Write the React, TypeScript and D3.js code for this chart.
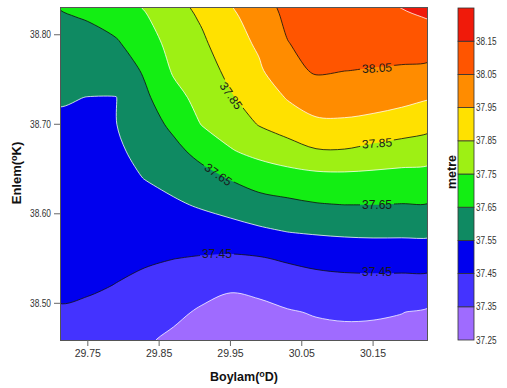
import React from "react";
import * as d3 from "d3";

// grid of the surface (lon = columns, lat = rows from south to north)
const lons = [29.71, 29.75, 29.79, 29.83, 29.87, 29.91, 29.95, 29.99, 30.03, 30.07, 30.11, 30.15, 30.19, 30.23];
const lats = [38.46, 38.49, 38.52, 38.55, 38.58, 38.61, 38.64, 38.67, 38.7, 38.73, 38.76, 38.79, 38.82, 38.85];
const depth = [
  [37.41, 37.407, 37.394, 37.363, 37.332, 37.29, 37.295, 37.3, 37.313, 37.323, 37.327, 37.326, 37.321, 37.314],
  [37.44, 37.434, 37.421, 37.396, 37.372, 37.336, 37.324, 37.329, 37.343, 37.356, 37.362, 37.36, 37.352, 37.335],
  [37.47, 37.461, 37.448, 37.429, 37.411, 37.389, 37.36, 37.371, 37.397, 37.412, 37.418, 37.419, 37.417, 37.412],
  [37.48, 37.474, 37.468, 37.461, 37.451, 37.443, 37.437, 37.443, 37.461, 37.476, 37.485, 37.488, 37.489, 37.489],
  [37.489, 37.485, 37.487, 37.491, 37.494, 37.502, 37.513, 37.533, 37.551, 37.56, 37.566, 37.569, 37.568, 37.568],
  [37.5, 37.497, 37.507, 37.522, 37.537, 37.56, 37.586, 37.613, 37.629, 37.644, 37.65, 37.65, 37.647, 37.644],
  [37.512, 37.509, 37.526, 37.552, 37.58, 37.616, 37.656, 37.693, 37.709, 37.719, 37.723, 37.721, 37.716, 37.712],
  [37.526, 37.523, 37.535, 37.579, 37.624, 37.682, 37.743, 37.777, 37.808, 37.842, 37.843, 37.821, 37.805, 37.79],
  [37.539, 37.536, 37.549, 37.606, 37.67, 37.754, 37.794, 37.855, 37.894, 37.93, 37.935, 37.923, 37.902, 37.878],
  [37.556, 37.549, 37.549, 37.632, 37.72, 37.781, 37.842, 37.892, 37.957, 38.002, 37.996, 37.99, 37.978, 37.956],
  [37.585, 37.585, 37.589, 37.663, 37.76, 37.808, 37.873, 37.935, 38.025, 38.059, 38.051, 38.046, 38.039, 38.027],
  [37.613, 37.621, 37.639, 37.703, 37.783, 37.834, 37.905, 37.965, 38.046, 38.089, 38.085, 38.08, 38.089, 38.094],
  [37.642, 37.656, 37.69, 37.742, 37.806, 37.862, 37.935, 37.985, 38.072, 38.119, 38.118, 38.112, 38.136, 38.156],
  [37.671, 37.692, 37.73, 37.781, 37.83, 37.891, 37.965, 38.005, 38.097, 38.142, 38.145, 38.144, 38.181, 38.201],
];

const levels = [37.25, 37.35, 37.45, 37.55, 37.65, 37.75, 37.85, 37.95, 38.05, 38.15];
const barEdges = [37.25, 37.35, 37.45, 37.55, 37.65, 37.75, 37.85, 37.95, 38.05, 38.15, 38.25];
const bandColors = [
  "#9f6bff", "#4433ff", "#0000ee", "#0f8a62", "#13ee13",
  "#9ef014", "#ffe100", "#ff8c00", "#ff5500", "#f01a0a",
];
const labeledLevels = [37.45, 37.65, 37.85, 38.05];

const lonTicks = [29.75, 29.85, 29.95, 30.05, 30.15];
const latTicks = [38.5, 38.6, 38.7, 38.8];

const contourLabels = [
  { text: "37.85", lon: 29.951, lat: 38.732, angle: 55 },
  { text: "37.65", lon: 29.933, lat: 38.644, angle: 35 },
  { text: "37.45", lon: 29.931, lat: 38.555, angle: 0 },
  { text: "38.05", lon: 30.1555, lat: 38.763, angle: -3 },
  { text: "37.85", lon: 30.1555, lat: 38.679, angle: -4 },
  { text: "37.65", lon: 30.1555, lat: 38.61, angle: 0 },
  { text: "37.45", lon: 30.1555, lat: 38.535, angle: 0 },
];

const font = "'Liberation Sans', Arial, sans-serif";

export default function App() {
  const W = 507, H = 388;
  const left = 60, right = 428, top = 7, bottom = 340;

  const x = d3.scaleLinear().domain([29.711, 30.227]).range([left, right]);
  const y = d3.scaleLinear().domain([38.459, 38.831]).range([bottom, top]);
  const cb = d3.scaleLinear().domain([37.25, 38.25]).range([bottom, 8]);

  const nx = lons.length, ny = lats.length;
  const dLon = lons[1] - lons[0], dLat = lats[1] - lats[0];
  const bands = d3.contours().size([nx, ny]).thresholds(levels)(depth.flat());

  // grid cell i sits at coordinate i + 0.5 in d3.contours space
  const toPx = (p: number[]) => [x(lons[0] + (p[0] - 0.5) * dLon), y(lats[0] + (p[1] - 0.5) * dLat)] as [number, number];
  const ring = d3.line().curve(d3.curveCatmullRomClosed.alpha(0.5));
  const smoothPath = (b: any) =>
    b.coordinates
      .map((poly: number[][][]) => poly.map((r) => ring(r.slice(0, -1).map(toPx)) || "").join(""))
      .join("");
  const fmt = d3.format(".2f");

  return (
    <svg width={W} height={H} style={{ display: "block", position: "absolute", left: 0, top: 0, background: "#fff" }}>
      <defs>
        <clipPath id="plotclip">
          <rect x={left} y={top} width={right - left} height={bottom - top} />
        </clipPath>
        <mask id="lblmask" maskUnits="userSpaceOnUse" x={0} y={0} width={W} height={H}>
          <rect x={0} y={0} width={W} height={H} fill="white" />
          {contourLabels.map((l, i) => (
            <rect key={i} x={-17} y={-6.5} width={34} height={13} fill="black"
              transform={`translate(${x(l.lon)},${y(l.lat)}) rotate(${l.angle})`} />
          ))}
        </mask>
      </defs>

      <g clipPath="url(#plotclip)">
        <rect x={left} y={top} width={right - left} height={bottom - top} fill={bandColors[0]} />
        {bands.map((b, i) => (
          <path key={i} d={smoothPath(b)} fill={bandColors[i]} fillRule="evenodd" />
        ))}
        <g mask="url(#lblmask)">
          {bands.slice(1).map((b, i) => {
            const dark = labeledLevels.includes(b.value);
            return (
              <path key={i} d={smoothPath(b)} fill="none"
                stroke={dark ? "#111" : "#fff"} strokeWidth={0.9} strokeOpacity={dark ? 0.9 : 0.85} />
            );
          })}
        </g>
        {contourLabels.map((l, i) => (
          <text key={i} transform={`translate(${x(l.lon)},${y(l.lat)}) rotate(${l.angle})`}
            textAnchor="middle" dy="0.36em" fontFamily={font} fontSize={12} fill="#1a1a1a">
            {l.text}
          </text>
        ))}
      </g>

      <rect x={left + 0.5} y={top + 0.5} width={right - left - 1} height={bottom - top} fill="none" stroke="#555" strokeWidth={1} />

      {latTicks.map((t) => (
        <g key={t}>
          <line x1={left - 6} x2={left} y1={y(t)} y2={y(t)} stroke="#666" />
          <text x={left - 9} y={y(t)} dy="0.36em" textAnchor="end" fontFamily={font} fontSize={10}
            textLength={21} lengthAdjust="spacingAndGlyphs" fill="#333">{fmt(t)}</text>
        </g>
      ))}
      {lonTicks.map((t) => (
        <g key={t}>
          <line x1={x(t)} x2={x(t)} y1={bottom} y2={bottom + 6} stroke="#666" />
          <text x={x(t)} y={357} textAnchor="middle" fontFamily={font} fontSize={10.5} fill="#333">{fmt(t)}</text>
        </g>
      ))}

      <text x={244} y={381} textAnchor="middle" fontFamily={font} fontSize={12.5} fontWeight="bold" fill="#111">
        Boylam(<tspan fontSize={9} dy={-4}>o</tspan><tspan dy={4}>D)</tspan>
      </text>
      <text transform="translate(21,173) rotate(-90)" textAnchor="middle" fontFamily={font} fontSize={13}
        fontWeight="bold" fill="#111">
        Enlem(<tspan fontSize={9} dy={-4}>o</tspan><tspan dy={4}>K)</tspan>
      </text>

      {/* colour bar */}
      {levels.map((lv, i) => (
        <rect key={lv} x={458} y={cb(barEdges[i + 1])} width={16} height={cb(barEdges[i]) - cb(barEdges[i + 1])}
          fill={bandColors[i]} stroke="#333" strokeWidth={0.8} />
      ))}
      {levels.map((lv) => (
        <text key={lv} x={476} y={cb(lv)} dy="0.36em" fontFamily={font} fontSize={10}
          textLength={20.5} lengthAdjust="spacingAndGlyphs" fill="#333">{fmt(lv)}</text>
      ))}
      <text transform="translate(455.5,172) rotate(-90)" textAnchor="middle" fontFamily={font} fontSize={12.5}
        fontWeight="bold" fill="#111">
        metre
      </text>
    </svg>
  );
}
